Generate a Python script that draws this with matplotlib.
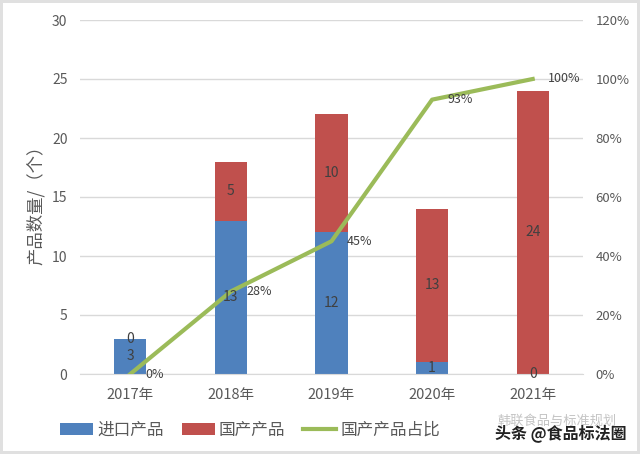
import matplotlib
matplotlib.use('Agg')
import matplotlib.pyplot as plt
import numpy as np

plt.rcParams['font.family'] = ['Noto Sans CJK SC', 'DejaVu Sans']

years = ['2017年', '2018年', '2019年', '2020年', '2021年']
imported = [3, 13, 12, 1, 0]
domestic = [0, 5, 10, 13, 24]
share = [0, 28, 45, 93, 100]
left_ticks = [0, 5, 10, 15, 20, 25, 30]
right_ticks = [0, 20, 40, 60, 80, 100, 120]

blue = '#4f81bd'
red = '#c0504d'
green = '#9bbb59'
grey = '#595959'

fig = plt.figure(figsize=(6.4, 4.54), dpi=100, facecolor='white', edgecolor='#e0e0e0', linewidth=3)
ax = fig.add_axes([80 / 640, 1 - 374 / 454, 503 / 640, 354 / 454])
x = np.arange(len(years))

ax.bar(x, imported, width=0.32, color=blue, label='进口产品')
ax.bar(x, domestic, width=0.32, bottom=imported, color=red, label='国产产品')
ax.set_xlim(-0.5, 4.5)
ax.set_ylim(0, 30)
ax.set_yticks(left_ticks)
ax.set_xticks(x)
ax.set_xticklabels(years)
ax.set_ylabel('产品数量/（个）', fontsize=12.5, color=grey)
ax.yaxis.set_label_coords(-35 / 503, 173 / 354)
ax.grid(axis='y', color='#d9d9d9', linewidth=1)
ax.set_axisbelow(True)
ax.tick_params(axis='y', length=0, labelsize=10, labelcolor=grey, pad=9)
ax.tick_params(axis='x', length=0, labelsize=10.5, labelcolor=grey, pad=10)
for s in ['top', 'left', 'right']:
    ax.spines[s].set_visible(False)
ax.spines['bottom'].set_color('#d9d9d9')

ax2 = ax.twinx()
ax2.plot(x, share, color=green, linewidth=3, label='国产产品占比')
ax2.set_ylim(0, 120)
ax2.set_yticks(right_ticks)
ax2.set_yticklabels([f'{v}%' for v in right_ticks])
ax2.tick_params(length=0, labelsize=9.5, labelcolor=grey, pad=9)
for s in ax2.spines.values():
    s.set_visible(False)

# подписи значений
for i in range(len(years)):
    ax2.text(x[i], imported[i] * 4 / 2, str(imported[i]), ha='center', va='center', fontsize=10, color='#404040', zorder=5)
    ax2.text(x[i], (imported[i] + domestic[i] / 2) * 4, str(domestic[i]), ha='center', va='center', fontsize=10, color='#404040', zorder=5)
    ax2.text(x[i] + 0.15, share[i], f'{share[i]}%', ha='left', va='center', fontsize=9, color='#404040', zorder=5)

h1, l1 = ax.get_legend_handles_labels()
h2, l2 = ax2.get_legend_handles_labels()
fig.legend(h1 + h2, l1 + l2, loc='lower left', bbox_to_anchor=(45 / 640, 0), ncol=3, frameon=False,
           fontsize=12, labelcolor=grey, columnspacing=1.05, handlelength=2.0, handletextpad=0.25)

# водяные знаки
fig.text(497 / 640, 1 - 421 / 454, '韩联食品与标准规划', fontsize=9.5, color='#c4c4c4', va='center')
fig.text(495 / 640, 1 - 433 / 454, '头条 @食品标法圈', fontsize=11.5, color='#222222', va='center', fontweight='bold')

fig.savefig('out.png', dpi=100, edgecolor=fig.get_edgecolor())
